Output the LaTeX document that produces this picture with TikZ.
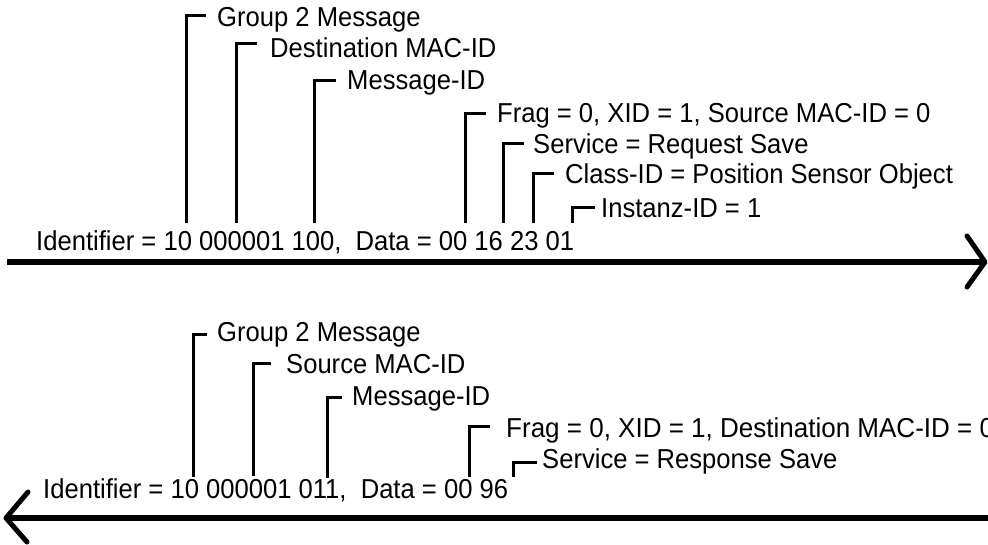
\documentclass[tikz,border=0pt]{standalone}
\usepackage{fontspec}
\setmainfont{Liberation Sans}
\usetikzlibrary{calc}
\newcommand\tallt[1]{\scalebox{1}[1.07]{#1}}
\newcommand\widet[1]{\scalebox{1.016}[1.07]{#1}}
\begin{document}
\begin{tikzpicture}[x=1pt,y=-1pt,
  lbl/.style={anchor=base west,inner sep=0pt,font=\fontsize{25.6}{30}\selectfont},
  brk/.style={line width=3pt,line join=miter},
  axis/.style={line width=5.5pt},
  head/.style={line width=5pt,line cap=round,line join=round}]
\useasboundingbox (0,0) rectangle (988,544);
\clip (0,0) rectangle (988,544);

% ---------- upper message ----------
\node[lbl] (id1) at (36,250) {\tallt{Identifier = 10 000001 100,\ \ Data = 00 16 23 01}};
\node[lbl] (a1) at (217,26) {\tallt{Group 2 Message}};
\node[lbl] (a2) at (270,57) {\tallt{Destination MAC-ID}};
\node[lbl] (a3) at (347,89) {\tallt{Message-ID}};
\node[lbl] (a4) at (497,122) {\tallt{Frag = 0, XID = 1, Source MAC-ID = 0}};
\node[lbl] (a5) at (533,153) {\tallt{Service = Request Save}};
\node[lbl] (a6) at (565,183) {\tallt{Class-ID = Position Sensor Object}};
\node[lbl] (a7) at (601,217) {\tallt{Instanz-ID = 1}};
\coordinate (p1) at (186,223);
\coordinate (p2) at (236,223);
\coordinate (p3) at (314,223);
\coordinate (p4) at (465,223);
\coordinate (p5) at (503,223);
\coordinate (p6) at (533,223);
\coordinate (p7) at (572,223);
\draw[brk] ($(a1.base west)+(-11,-11)$) -| (p1);
\draw[brk] ($(a2.base west)+(-13,-14)$) -| (p2);
\draw[brk] ($(a3.base west)+(-11,-9)$) -| (p3);
\draw[brk] ($(a4.base west)+(-11,-9)$) -| (p4);
\draw[brk] ($(a5.base west)+(-9,-10)$) -| (p5);
\draw[brk] ($(a6.base west)+(-11,-10)$) -| (p6);
\draw[brk] ($(a7.base west)+(-6,-10)$) -| (p7);
\coordinate (s1) at (7,262);
\coordinate (t1) at (985,262);
\draw[axis] (s1) -- (t1);
\draw[head] (967,236) -- (t1) -- (967,287);

% ---------- lower message ----------
\node[lbl] (id2) at (43,498) {\tallt{Identifier = 10 000001 011,\ \ Data = 00 96}};
\node[lbl] (b1) at (217,341) {\tallt{Group 2 Message}};
\node[lbl] (b2) at (286,373) {\tallt{Source MAC-ID}};
\node[lbl] (b3) at (352,405) {\tallt{Message-ID}};
\node[lbl] (b4) at (506,437) {\widet{Frag = 0, XID = 1, Destination MAC-ID = 0}};
\node[lbl] (b5) at (542,468) {\tallt{Service = Response Save}};
\coordinate (q1) at (193,477);
\coordinate (q2) at (253,476);
\coordinate (q3) at (327,478);
\coordinate (q4) at (469,477);
\coordinate (q5) at (513,477);
\draw[brk] ($(b1.base west)+(-10,-7)$) -| (q1);
\draw[brk] ($(b2.base west)+(-15,-10)$) -| (q2);
\draw[brk] ($(b3.base west)+(-10,-8)$) -| (q3);
\draw[brk] ($(b4.base west)+(-16,-11)$) -| (q4);
\draw[brk] ($(b5.base west)+(-5,-6)$) -| (q5);
\coordinate (s2) at (992,518);
\coordinate (t2) at (6,518);
\draw[axis] (s2) -- (t2);
\draw[head] (28,492) -- (t2) -- (27,542);
\end{tikzpicture}
\end{document}
